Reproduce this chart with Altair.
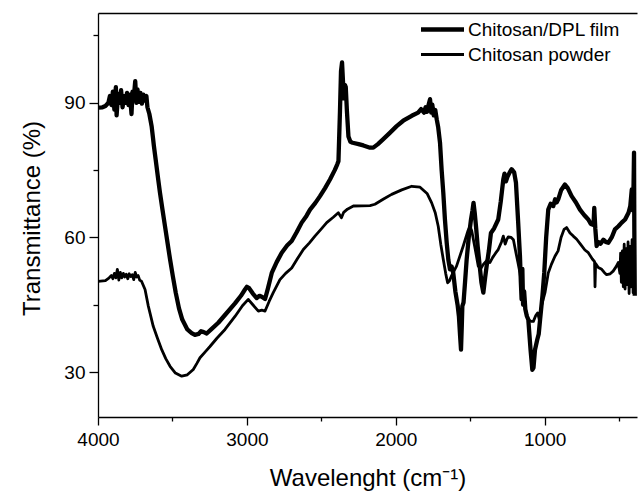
import altair as alt
import pandas as pd

# Chitosan/DPL film (thick line)
film_x = [4000, 3970, 3950, 3930, 3920, 3910, 3900, 3890, 3880, 3875, 3865, 3855, 3845, 3835, 3825, 3815,
          3805, 3795, 3785, 3775, 3768, 3760, 3750, 3742, 3735, 3725, 3715, 3705, 3695, 3685, 3675, 3668,
          3655, 3640, 3630, 3625, 3613, 3598, 3584, 3567, 3550, 3533, 3516, 3497, 3478, 3456, 3434, 3400,
          3371, 3349, 3325, 3308, 3290, 3270, 3240, 3192, 3140, 3080, 3040, 3013, 3000, 2985, 2960, 2934,
          2915, 2900, 2878, 2860, 2833, 2800, 2766, 2730, 2699, 2665, 2632, 2600, 2576, 2540, 2509, 2475,
          2442, 2410, 2393, 2385, 2375, 2368, 2361, 2355, 2348, 2342, 2336, 2328, 2318, 2305, 2290, 2250,
          2218, 2173, 2151, 2120, 2084, 2040, 1994, 1950, 1893, 1850, 1830, 1810, 1800, 1790, 1780, 1770,
          1762, 1755, 1745, 1735, 1725, 1715, 1703, 1692, 1681, 1670, 1658, 1647, 1636, 1625, 1614, 1600,
          1585, 1576, 1568, 1562, 1557, 1553, 1545, 1535, 1524, 1510, 1495, 1485, 1478, 1470, 1460, 1450,
          1441, 1425, 1412, 1400, 1390, 1375, 1361, 1340, 1312, 1295, 1278, 1270, 1260, 1250, 1235, 1222,
          1205, 1193, 1178, 1166, 1160, 1155, 1150, 1145, 1138, 1130, 1120, 1110, 1095, 1083, 1075, 1065,
          1050, 1040, 1030, 1015, 1003, 990, 976, 960, 942, 930, 920, 909, 890, 864, 845, 819,
          790, 763, 735, 707, 690, 672, 667, 660, 651, 640, 625, 606, 590, 573, 550, 528,
          505, 483, 460, 437, 425, 415, 408, 403, 400, 398, 395]
film_y = [88.9, 89.0, 89.3, 90.0, 91.5, 89.5, 92.5, 88.5, 93.5, 87.2, 92.0, 90.0, 92.8, 89.0, 91.5, 90.0,
          92.2, 89.5, 91.8, 87.5, 92.5, 91.0, 94.8, 90.0, 93.0, 90.2, 92.2, 89.8, 91.8, 90.5, 91.5, 89.0,
          87.5, 84.8, 82.0, 80.5, 77.4, 73.5, 70.0, 66.2, 62.5, 58.8, 55.1, 51.3, 47.7, 44.2, 41.7, 39.5,
          38.7, 38.3, 38.5, 39.1, 38.9, 38.6, 39.5, 41.0, 43.0, 45.3, 47.0, 48.4, 49.0, 48.7, 47.5, 46.5,
          47.0, 46.8, 46.3, 48.5, 52.1, 54.5, 56.6, 58.2, 59.2, 61.2, 63.3, 64.8, 66.2, 67.7, 69.2, 71.0,
          72.9, 75.0, 76.3, 77.0, 88.0, 97.0, 99.0, 95.0, 91.0, 94.0, 93.5, 88.0, 82.5, 81.3, 81.1, 80.8,
          80.5, 80.0, 80.0, 80.8, 81.9, 83.3, 84.8, 86.0, 87.1, 87.8, 88.6, 87.8, 89.0, 88.0, 89.5, 90.8,
          87.8, 89.6, 87.2, 88.4, 86.3, 84.5, 81.1, 75.0, 70.0, 64.0, 58.8, 55.0, 52.9, 53.5, 52.1, 48.0,
          45.0, 42.4, 38.0, 35.0, 40.0, 44.7, 45.5, 50.0, 55.1, 60.0, 64.0, 66.0, 67.7, 65.5, 62.0, 58.0,
          55.1, 50.0, 47.7, 51.0, 53.6, 57.0, 61.0, 62.0, 64.0, 68.0, 72.9, 74.2, 72.5, 73.5, 74.5, 75.2,
          74.5, 72.2, 63.3, 55.8, 50.0, 46.2, 53.0, 45.0, 48.0, 44.0, 42.5, 41.7, 35.0, 30.5, 31.0, 35.0,
          37.2, 38.5, 42.0, 47.0, 52.1, 60.0, 66.2, 67.5, 67.0, 68.5, 67.8, 68.5, 70.5, 71.8, 71.0, 69.2,
          67.8, 66.2, 65.0, 64.0, 63.0, 62.8, 66.6, 62.0, 58.1, 59.0, 58.6, 59.5, 59.0, 58.8, 60.0, 61.8,
          62.5, 63.3, 64.0, 65.5, 67.0, 70.7, 66.0, 72.0, 78.9, 62.0, 47.0]

# Chitosan powder (thin line)
powder_x = [4000, 3950, 3925, 3910, 3900, 3890, 3880, 3870, 3860, 3850, 3840, 3830, 3820, 3810, 3800, 3790,
            3780, 3770, 3760, 3750, 3740, 3730, 3720, 3707, 3684, 3662, 3629, 3600, 3572, 3545, 3516, 3480,
            3438, 3400, 3360, 3335, 3315, 3280, 3248, 3200, 3147, 3080, 3030, 2991, 2960, 2923, 2900, 2878,
            2850, 2823, 2778, 2740, 2699, 2660, 2621, 2580, 2543, 2500, 2464, 2420, 2386, 2365, 2350, 2325,
            2285, 2173, 2140, 2085, 2028, 1960, 1893, 1837, 1790, 1759, 1735, 1715, 1698, 1681, 1665, 1652,
            1640, 1625, 1592, 1547, 1515, 1502, 1490, 1470, 1446, 1430, 1412, 1390, 1368, 1350, 1330, 1312,
            1290, 1278, 1265, 1255, 1245, 1225, 1210, 1193, 1180, 1166, 1155, 1144, 1130, 1110, 1090, 1076,
            1060, 1047, 1035, 1020, 998, 976, 955, 931, 910, 890, 870, 853, 830, 808, 785, 760,
            730, 707, 680, 665, 662, 658, 640, 617, 600, 584, 560, 540, 520, 506, 495, 490,
            485, 478, 472, 466, 460, 453, 447, 440, 433, 427, 420, 413, 406, 400, 396]
powder_y = [50.2, 50.4, 51.0, 51.5, 50.8, 52.0, 51.0, 52.9, 50.5, 52.2, 51.0, 52.0, 51.2, 51.8, 50.8, 51.9,
            51.3, 51.7, 50.6, 52.2, 51.2, 51.5, 50.5, 50.2, 48.4, 44.7, 40.2, 37.5, 35.0, 33.0, 31.3, 29.8,
            29.1, 29.4, 30.6, 32.0, 33.2, 34.5, 35.7, 37.6, 39.5, 42.4, 44.8, 46.2, 45.0, 43.6, 43.8, 43.6,
            45.8, 47.7, 50.6, 52.0, 53.2, 55.3, 57.3, 58.8, 60.3, 61.9, 63.3, 64.5, 65.5, 64.4, 65.6, 66.3,
            67.0, 67.1, 67.4, 68.5, 69.6, 70.6, 71.4, 71.2, 69.8, 67.7, 65.5, 62.5, 58.5, 55.1, 52.0, 49.9,
            50.3, 51.5, 53.6, 58.1, 61.5, 62.5, 61.5, 58.0, 53.6, 53.0, 54.0, 54.8, 54.4, 55.5, 56.5, 57.3,
            59.0, 60.3, 58.5, 59.5, 60.1, 60.0, 59.5, 56.6, 54.5, 52.1, 49.0, 46.2, 44.0, 41.7, 41.3, 41.3,
            42.6, 43.2, 41.5, 45.0, 47.7, 52.1, 54.0, 55.8, 57.0, 60.0, 61.8, 62.2, 61.0, 60.3, 59.6, 58.5,
            57.2, 56.6, 55.2, 54.6, 49.0, 54.2, 53.3, 52.9, 52.2, 51.7, 51.9, 52.5, 53.5, 54.4, 52.0, 56.5,
            50.0, 57.0, 49.0, 58.5, 48.5, 57.5, 49.5, 59.0, 47.5, 58.0, 49.0, 59.5, 47.7, 57.0, 54.0]

series_names = ["Chitosan/DPL film", "Chitosan powder"]
x_major = [4000, 3000, 2000, 1000]
x_minor = [3500, 2500, 1500, 500]
y_major = [30, 60, 90]
y_minor = [45, 75, 105]

df = pd.concat([
    pd.DataFrame({"wn": film_x, "t": film_y, "series": series_names[0]}),
    pd.DataFrame({"wn": powder_x, "t": powder_y, "series": series_names[1]}),
], ignore_index=True)

FONT = "Liberation Sans"
xscale = alt.Scale(domain=[380, 4000], reverse=True, nice=False, zero=False)
yscale = alt.Scale(domain=[20, 110], nice=False, zero=False)

base = alt.Chart(df)

lines = base.mark_line(color="black", clip=True, strokeJoin="round").encode(
    x=alt.X("wn:Q", scale=xscale, axis=alt.Axis(
        orient="bottom", values=x_major, format="d", tickSize=8, labelFontSize=19, labelFont=FONT,
        labelPadding=5, labelColor="black", tickColor="black", domainColor="black",
        domainWidth=1.3, tickWidth=1.3, grid=False, labelFlush=False,
        title="Wavelenght (cm⁻¹)", titleFont=FONT, titleFontSize=24, titleFontWeight="normal",
        titleColor="black", titleY=68, titleBaseline="alphabetic")),
    y=alt.Y("t:Q", scale=yscale, axis=alt.Axis(
        orient="left", values=y_major, format="d", tickSize=9, labelFontSize=19, labelFont=FONT,
        labelPadding=4, labelColor="black", tickColor="black", domainColor="black",
        domainWidth=1.3, tickWidth=1.3, grid=False, labelFlush=False,
        title="Transmittance (%)", titleFont=FONT, titleFontSize=24, titleFontWeight="normal",
        titleColor="black", titleX=-59, titleY=205, titleBaseline="alphabetic",
        titleAlign="center")),
    strokeWidth=alt.StrokeWidth("series:N", scale=alt.Scale(domain=series_names, range=[4.3, 2.8]),
        legend=alt.Legend(orient="none", legendX=332, legendY=4, title=None,
                          symbolType="M-2.15,0H2.15", symbolSize=400, symbolStrokeColor="black",
                          symbolFillColor="transparent",
                          labelFont=FONT, labelFontSize=19, labelColor="black", labelOffset=13,
                          rowPadding=3, padding=0)),
    detail="series:N",
)

minor = base.mark_line(opacity=0).encode(
    x=alt.X("wn:Q", scale=xscale, axis=alt.Axis(
        orient="bottom", values=x_minor, tickSize=4, labels=False, domain=False,
        tickColor="black", tickWidth=1.3, grid=False, title=None)),
    y=alt.Y("t:Q", scale=yscale, axis=alt.Axis(
        orient="left", values=y_minor, tickSize=5, labels=False, domain=False,
        tickColor="black", tickWidth=1.3, grid=False, title=None)),
    detail="series:N",
)

top = base.mark_line(opacity=0).encode(
    x=alt.X("wn:Q", scale=xscale, axis=alt.Axis(
        orient="top", ticks=False, labels=False, domain=True, domainColor="black",
        domainWidth=1.3, grid=False, title=None)),
    y=alt.Y("t:Q", scale=yscale, axis=None),
    detail="series:N",
)

chart = alt.layer(lines, minor, top).resolve_axis(
    x="independent", y="independent"
).properties(
    width=539, height=404,
    autosize=alt.AutoSizeParams(type="none"),
    padding={"left": 98, "top": 13, "right": 2, "bottom": 79},
    background="white",
).configure_view(stroke=None)

chart.save("out.html", embed_options={"renderer": "svg", "actions": False})
